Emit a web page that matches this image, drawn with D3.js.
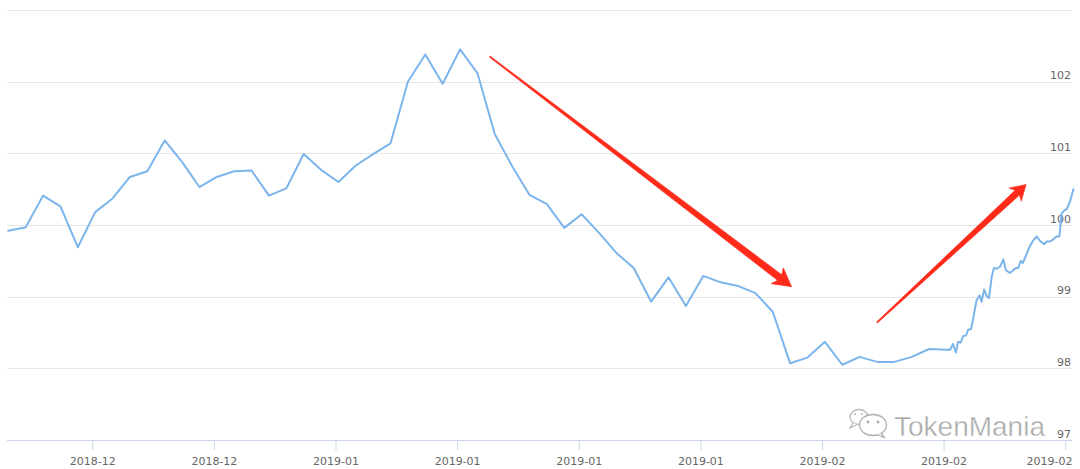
<!DOCTYPE html>
<html><head><meta charset="utf-8">
<script src="https://cdn.jsdelivr.net/npm/d3@7"></script>
<style>html,body{margin:0;padding:0;background:#fff;overflow:hidden}</style>
</head><body><svg id="c" width="1080" height="469"></svg>
<script>
// ---------- data ----------
const dailyDates = [
 "2018-12-18T04:00","2018-12-19T04:00","2018-12-20T04:00","2018-12-21T04:00","2018-12-22T04:00",
 "2018-12-23T04:00","2018-12-24T04:00","2018-12-25T04:00","2018-12-26T04:00","2018-12-27T04:00",
 "2018-12-28T04:00","2018-12-29T04:00","2018-12-30T04:00","2018-12-31T04:00","2019-01-01T04:00",
 "2019-01-02T04:00","2019-01-03T04:00","2019-01-04T04:00","2019-01-05T04:00","2019-01-06T04:00",
 "2019-01-07T04:00","2019-01-08T04:00","2019-01-09T04:00","2019-01-10T04:00","2019-01-11T04:00",
 "2019-01-12T04:00","2019-01-13T04:00","2019-01-14T04:00","2019-01-15T04:00","2019-01-16T04:00",
 "2019-01-17T04:00","2019-01-18T04:00","2019-01-19T04:00","2019-01-20T04:00","2019-01-21T04:00",
 "2019-01-22T04:00","2019-01-23T04:00","2019-01-24T04:00","2019-01-25T04:00","2019-01-26T04:00",
 "2019-01-27T04:00","2019-01-28T04:00","2019-01-29T04:00","2019-01-30T04:00","2019-01-31T04:00",
 "2019-02-01T04:00","2019-02-02T04:00","2019-02-03T04:00","2019-02-04T04:00","2019-02-05T04:00",
 "2019-02-06T04:00","2019-02-07T04:00","2019-02-08T04:00","2019-02-09T04:00","2019-02-10T04:00"
];
const dailyValues = [
 99.92, 99.97, 100.41, 100.26, 99.69,
 100.18, 100.37, 100.67, 100.75, 101.18,
 100.88, 100.53, 100.67, 100.75, 100.76,
 100.41, 100.51, 100.99, 100.77, 100.60,
 100.83, 100.99, 101.14, 102.00, 102.38,
 101.97, 102.45, 102.12, 101.27, 100.82,
 100.42, 100.29, 99.96, 100.15, 99.89,
 99.61, 99.40, 98.93, 99.27, 98.87,
 99.29, 99.20, 99.15, 99.05, 98.79,
 98.07, 98.15, 98.37, 98.05, 98.16,
 98.09, 98.09, 98.16, 98.27, 98.26
];
const intradayDates = [
 "2019-02-10T09:00","2019-02-10T13:00","2019-02-10T17:00","2019-02-10T20:00","2019-02-10T23:30",
 "2019-02-11T03:00","2019-02-11T07:00","2019-02-11T10:00","2019-02-11T14:00","2019-02-11T17:00",
 "2019-02-11T21:30","2019-02-12T02:00","2019-02-12T04:30","2019-02-12T08:00","2019-02-12T11:30",
 "2019-02-12T14:40","2019-02-12T18:30","2019-02-12T21:30","2019-02-13T01:30","2019-02-13T06:00",
 "2019-02-13T10:30","2019-02-13T14:00","2019-02-13T19:40","2019-02-14T00:20","2019-02-14T04:00",
 "2019-02-14T07:00","2019-02-14T10:30","2019-02-14T13:20","2019-02-14T18:00","2019-02-14T22:30",
 "2019-02-15T03:00","2019-02-15T08:30","2019-02-15T13:00","2019-02-15T18:40","2019-02-15T22:30",
 "2019-02-16T03:00","2019-02-16T07:30","2019-02-16T12:00","2019-02-16T16:00","2019-02-16T19:00",
 "2019-02-16T22:20","2019-02-17T02:00","2019-02-17T06:40","2019-02-17T11:20"
];
const intradayValues = [
 98.26, 98.34, 98.22, 98.37, 98.36,
 98.45, 98.46, 98.54, 98.55, 98.70,
 98.95, 99.02, 98.93, 99.10, 99.01,
 98.98, 99.28, 99.40, 99.39, 99.42,
 99.52, 99.37, 99.33, 99.37, 99.40,
 99.40, 99.50, 99.47, 99.58, 99.69,
 99.77, 99.84, 99.78, 99.73, 99.77,
 99.77, 99.80, 99.84, 99.84, 100.16,
 100.20, 100.22, 100.33, 100.50
];
const yGridValues = [97, 98, 99, 100, 101, 102, 103];
const yLabelValues = [97, 98, 99, 100, 101, 102];
const xTickFormat = "%Y-%m";
// annotation arrows, in data terms: [fromDate, fromValue, toDate, toValue]
const arrowDown = ["2019-01-14T21:00", 102.35, "2019-02-01T06:00", 99.14];
const arrowUp   = ["2019-02-06T04:00", 98.64, "2019-02-14T18:00", 100.565];
const watermark = "TokenMania";

// ---------- chart ----------
const parse = d3.timeParse("%Y-%m-%dT%H:%M");
const series = dailyDates.map((d,i)=>({t:parse(d), v:dailyValues[i]}))
  .concat(intradayDates.map((d,i)=>({t:parse(d), v:intradayValues[i]})));

const W = 1080, H = 469;
const plotL = 7, plotR = 1072, plotT = 10, plotB = 440;
const svg = d3.select("#c");
const FONT = "'DejaVu Sans', Verdana, sans-serif";

const x = d3.scaleTime()
  .domain([new Date(2018,11,18), new Date(2019,1,18)])
  .range([5.4, 1082.6]);
const y = d3.scaleLinear().domain([97,103]).range([plotB, plotT]);

// grid
svg.append("g").selectAll("line").data(yGridValues).join("line")
  .attr("x1", plotL).attr("x2", plotR)
  .attr("y1", d=>Math.round(y(d))+0.5).attr("y2", d=>Math.round(y(d))+0.5)
  .attr("stroke", "#e6e6e6").attr("stroke-width", 1);

// y labels (right side, above grid line)
svg.append("g").selectAll("text").data(yLabelValues).join("text")
  .attr("x", 1071).attr("y", d=>y(d)-2.5)
  .attr("text-anchor","end")
  .attr("font-family", FONT).attr("font-size", 11).attr("fill", "#666")
  .text(d=>d);

// x axis
const xAxis = d3.axisBottom(x)
  .ticks(d3.timeWeek.every(1))
  .tickFormat(d3.timeFormat(xTickFormat))
  .tickSizeInner(10).tickSizeOuter(0).tickPadding(7);
const gx = svg.append("g").attr("transform", `translate(0,${plotB+0.5})`).call(xAxis);
gx.select(".domain").remove();
gx.selectAll(".tick line").attr("stroke", "#ccd6eb");
gx.selectAll(".tick text").attr("font-family", FONT).attr("font-size", 11).attr("fill", "#666");
// keep the last label inside the plot (justified like the original)
const tickNodes = gx.selectAll(".tick").nodes();
const lastText = d3.select(tickNodes[tickNodes.length-1]).select("text");
const lastX = x(d3.select(tickNodes[tickNodes.length-1]).datum());
lastText.attr("text-anchor","end").attr("x", plotR - lastX);
svg.append("line").attr("x1", plotL).attr("x2", plotR)
  .attr("y1", plotB+0.5).attr("y2", plotB+0.5).attr("stroke", "#ccd6eb");

// line
const line = d3.line().x(d=>x(d.t)).y(d=>y(d.v));
svg.append("path").datum(series)
  .attr("d", line).attr("fill","none")
  .attr("stroke", "#7cb5ec").attr("stroke-width", 2)
  .attr("stroke-linejoin","round").attr("stroke-linecap","round");

// arrows
function drawArrow(a, w0, w1, headLen, headHalf) {
  const p0 = [x(parse(a[0])), y(a[1])], p1 = [x(parse(a[2])), y(a[3])];
  const dx = p1[0]-p0[0], dy = p1[1]-p0[1], len = Math.hypot(dx,dy);
  const u = [dx/len, dy/len], n = [-u[1], u[0]];
  const b = [p1[0]-u[0]*headLen, p1[1]-u[1]*headLen];
  const bb = [p1[0]-u[0]*(headLen-3), p1[1]-u[1]*(headLen-3)];
  const P = (p, k) => [p[0]+n[0]*k, p[1]+n[1]*k];
  const pts = [P(p0, w0/2), P(bb, w1/2), P(b, headHalf), p1, P(b, -headHalf), P(bb, -w1/2), P(p0, -w0/2)];
  svg.append("path").attr("d", "M" + pts.map(p=>p.join(",")).join("L") + "Z")
    .attr("fill", "#ff2a1a").attr("stroke","#ff2a1a").attr("stroke-width",0.6)
    .attr("stroke-linejoin","round");
}
drawArrow(arrowDown, 1.3, 7, 18, 10);
drawArrow(arrowUp, 1.3, 6.5, 15, 9);

// watermark: wechat-like icon + text
const wm = svg.append("g");
wm.append("ellipse").attr("cx", 859).attr("cy", 417).attr("rx", 9).attr("ry", 7.5)
  .attr("fill","#fff").attr("stroke","#b8b8b8").attr("stroke-width",1.3);
wm.append("path").attr("d","M853,423 L850,428 L857,424.5").attr("fill","#fff").attr("stroke","#b8b8b8").attr("stroke-width",1.2);
wm.append("ellipse").attr("cx", 873).attr("cy", 425).attr("rx", 13.5).attr("ry", 10.5)
  .attr("fill","#fff").attr("stroke","#b0b0b0").attr("stroke-width",1.3);
wm.append("path").attr("d","M881,433.5 L885,438 L877,434.5").attr("fill","#fff").attr("stroke","#b0b0b0").attr("stroke-width",1.2);
wm.append("circle").attr("cx",868).attr("cy",422).attr("r",1.4).attr("fill","#aaa");
wm.append("circle").attr("cx",878).attr("cy",422).attr("r",1.4).attr("fill","#aaa");
wm.append("circle").attr("cx",855).attr("cy",414).attr("r",1.1).attr("fill","#bbb");
wm.append("circle").attr("cx",862).attr("cy",414).attr("r",1.1).attr("fill","#bbb");
wm.append("text").attr("x", 894).attr("y", 435.5)
  .attr("font-family", "'Liberation Sans', Arial, sans-serif").attr("font-size", 27.5)
  .attr("textLength", 151).attr("lengthAdjust", "spacingAndGlyphs")
  .attr("fill", "#a8a8a8").attr("stroke","#fff").attr("stroke-width",0.4)
  .text(watermark);
</script></body></html>
